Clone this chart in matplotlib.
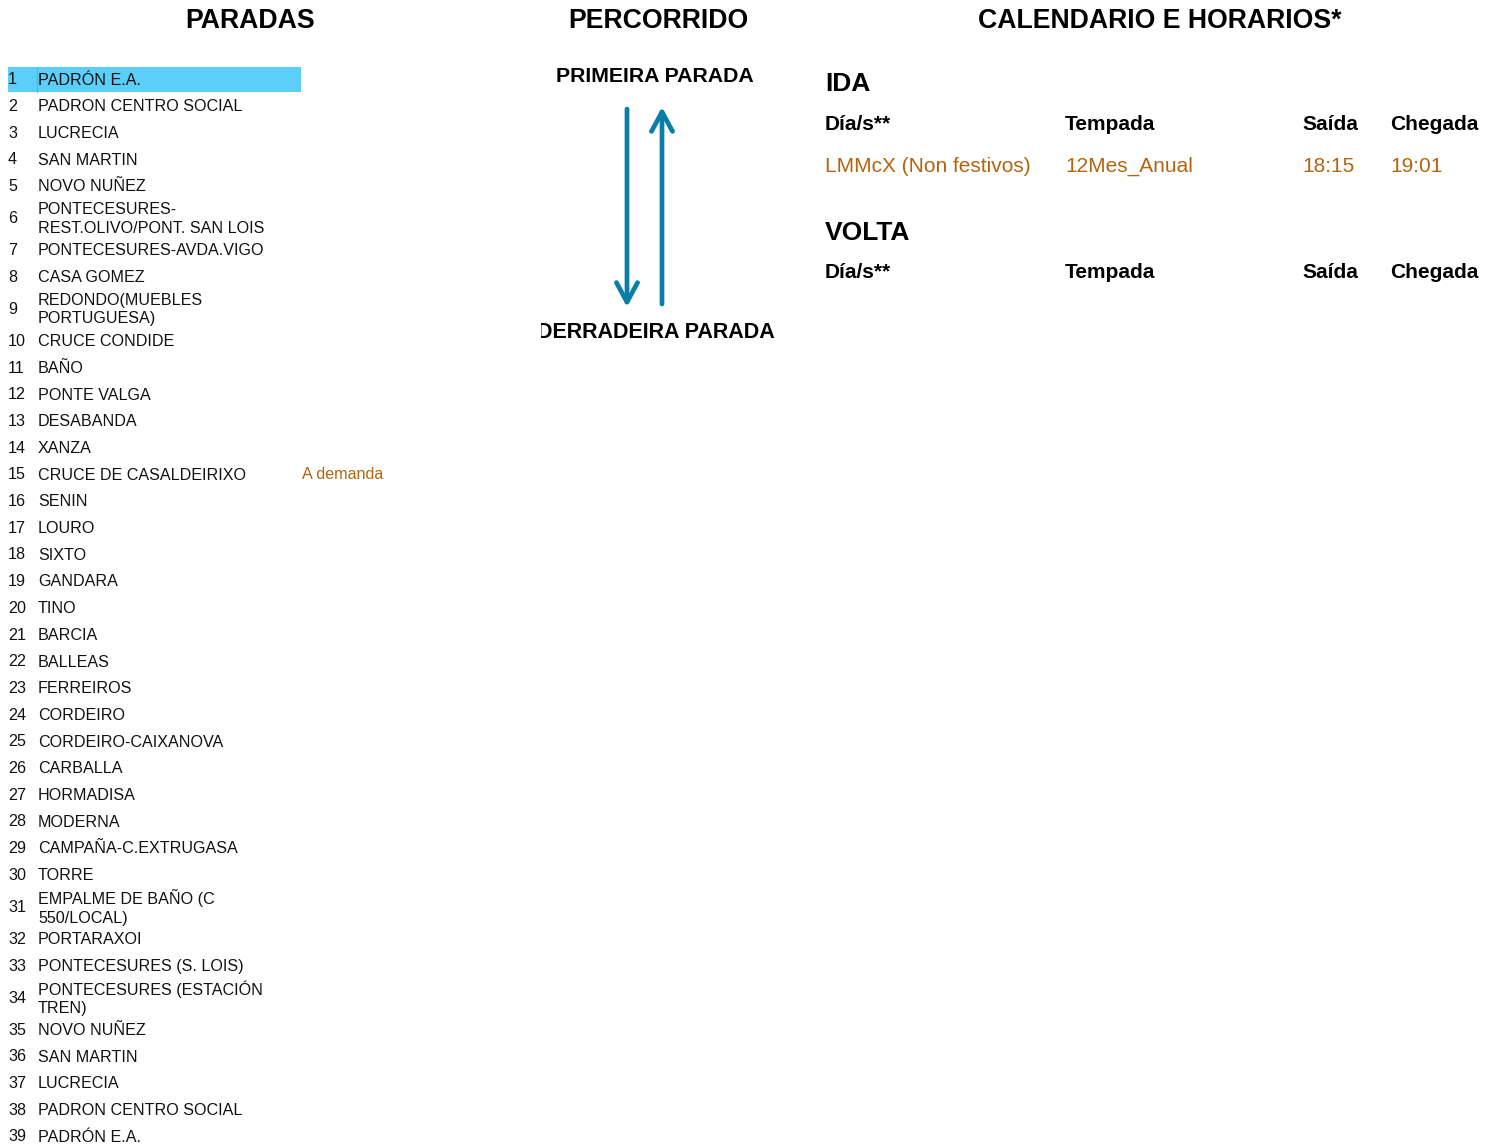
import matplotlib
matplotlib.use("Agg")
import matplotlib.pyplot as plt
from matplotlib.patches import Rectangle
from matplotlib.transforms import Bbox

plt.rcParams['font.family'] = ['Liberation Sans', 'DejaVu Sans']

# ---- data ----
stop_names = [
    "PADRÓN E.A.", "PADRON CENTRO SOCIAL", "LUCRECIA", "SAN MARTIN", "NOVO NUÑEZ",
    "PONTECESURES-\nREST.OLIVO/PONT. SAN LOIS", "PONTECESURES-AVDA.VIGO", "CASA GOMEZ",
    "REDONDO(MUEBLES\nPORTUGUESA)", "CRUCE CONDIDE", "BAÑO", "PONTE VALGA", "DESABANDA",
    "XANZA", "CRUCE DE CASALDEIRIXO", "SENIN", "LOURO", "SIXTO", "GANDARA", "TINO",
    "BARCIA", "BALLEAS", "FERREIROS", "CORDEIRO", "CORDEIRO-CAIXANOVA", "CARBALLA",
    "HORMADISA", "MODERNA", "CAMPAÑA-C.EXTRUGASA", "TORRE",
    "EMPALME DE BAÑO (C\n550/LOCAL)", "PORTARAXOI", "PONTECESURES (S. LOIS)",
    "PONTECESURES (ESTACIÓN\nTREN)", "NOVO NUÑEZ", "SAN MARTIN", "LUCRECIA",
    "PADRON CENTRO SOCIAL", "PADRÓN E.A.",
]
stop_notes = {15: "A demanda"}
highlighted_stop = 1

section_titles = ["PARADAS", "PERCORRIDO", "CALENDARIO E HORARIOS*"]
route_labels = ["PRIMEIRA PARADA", "DERRADEIRA PARADA"]

table_headers = ["Día/s**", "Tempada", "Saída", "Chegada"]
ida_rows = [["LMMcX (Non festivos)", "12Mes_Anual", "18:15", "19:01"]]
volta_rows = []

# ---- style ----
ORANGE = "#B5640D"
BLUE = "#0B7EA8"
HL = "#5BCEFA"

fig = plt.figure(figsize=(14.98, 11.46), dpi=100)
ax = fig.add_axes([0, 0, 1, 1])
ax.set_xlim(0, 1498)
ax.set_ylim(1146, 0)
ax.axis("off")

# section titles
for x, t in zip([250, 658, 1160], section_titles):
    ax.text(x, 21, t, ha="center", va="center", fontsize=19.2, fontweight="bold", color="black")

# stops list
single_h, double_h = 26.7, 37.3
top = 66.0
for i, name in enumerate(stop_names, start=1):
    h = double_h if "\n" in name else single_h
    yc = top + h / 2
    if i == highlighted_stop:
        ax.add_patch(Rectangle((8, top + 1), 293, h - 2, facecolor=HL, edgecolor="none"))
        ax.plot([37, 37], [top + 1, top + h - 1], color="#4BB8E6", lw=0.8)
    ax.text(8, yc + 0.5, str(i), ha="left", va="center", fontsize=11.6, color="#111111")
    ax.text(38, yc + 0.8, name, ha="left", va="center", fontsize=11.6, color="#111111",
            linespacing=1.3)
    if i in stop_notes:
        ax.text(302, yc + 0.5, stop_notes[i], ha="left", va="center", fontsize=11.6, color=ORANGE)
    top += h

# route
ax.text(655, 76, route_labels[0], ha="center", va="center", fontsize=15.3, fontweight="bold")
t2 = ax.text(656, 332, route_labels[1], ha="center", va="center", fontsize=15.5, fontweight="bold")
# clip the left edge of the label (display pixel coords, dpi=100)
t2.set_clip_box(Bbox.from_extents(541, 0, 1000, 1146))
t2.set_clip_on(True)

arrow_style = "->,head_length=0.7,head_width=0.38"
ax.annotate("", xy=(627, 307), xytext=(627, 109),
            arrowprops=dict(arrowstyle=arrow_style, color=BLUE, lw=3.4,
                            shrinkA=0, shrinkB=0, mutation_scale=20))
ax.annotate("", xy=(662, 107), xytext=(662, 304),
            arrowprops=dict(arrowstyle=arrow_style, color=BLUE, lw=3.4,
                            shrinkA=0, shrinkB=0, mutation_scale=20))

# schedule
col_x = [825, 1065, 1302, 1390]

def block(title, y_title, rows):
    ax.text(col_x[0], y_title, title, ha="left", va="center", fontsize=19, fontweight="bold")
    yh = y_title + 40
    for x, h in zip(col_x, table_headers):
        ax.text(x, yh, h, ha="left", va="center", fontsize=15, fontweight="bold")
    y = yh + 42
    for r in rows:
        for x, v in zip(col_x, r):
            ax.text(x, y, v, ha="left", va="center", fontsize=15, color=ORANGE)
        y += 42

block("IDA", 84, ida_rows)
block("VOLTA", 233, volta_rows)

fig.savefig("out.png", dpi=100, facecolor="white")
